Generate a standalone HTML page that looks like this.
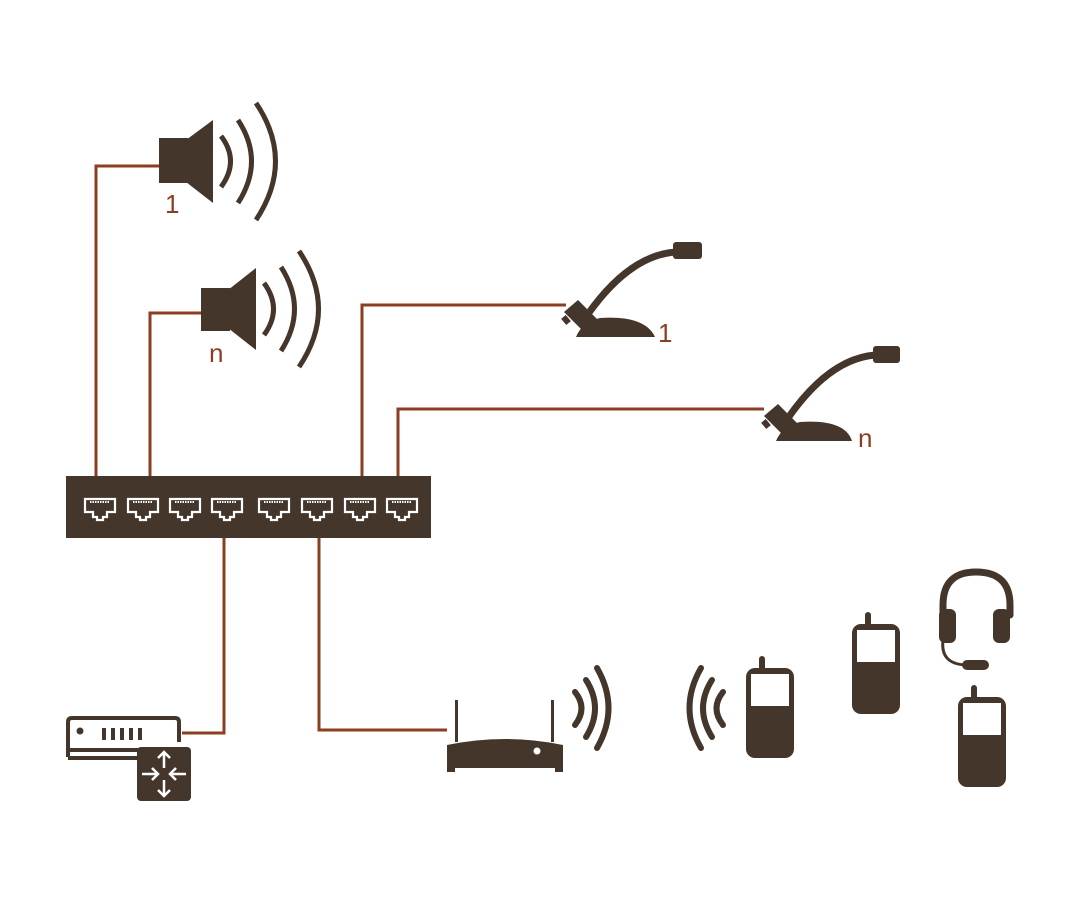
<!DOCTYPE html>
<html><head><meta charset="utf-8"><style>html,body{margin:0;padding:0;background:#fff}svg{display:block}</style></head>
<body>
<svg width="1080" height="905" viewBox="0 0 1080 905" xmlns="http://www.w3.org/2000/svg">
<defs>
<g id="port"><path d="M-15,-9 H15 V4 H7 V9 H3 V12 H-3 V9 H-7 V4 H-15 Z" fill="none" stroke="#fff" stroke-width="2.2"/><line x1="-10" y1="-6" x2="10" y2="-6" stroke="#fff" stroke-width="2" stroke-dasharray="1.5 1"/></g>
<g id="phone"><rect x="0" y="11" width="48" height="90" rx="9" fill="#45362b"/><rect x="13" y="-1" width="6" height="16" rx="3" fill="#45362b"/><rect x="5" y="17" width="38" height="32" fill="#fff"/></g>
</defs>
<g fill="none" stroke="#8b3e22" stroke-width="3">
<polyline points="96,476 96,166 160,166"/>
<polyline points="150,476 150,313 202,313"/>
<polyline points="362,476 362,305 566,305"/>
<polyline points="398,476 398,409 764,409"/>
<polyline points="224,538 224,733 182,733"/>
<polyline points="319,538 319,730 447,730"/>
</g>
<rect x="66" y="476" width="365" height="62" fill="#45362b"/>
<use href="#port" x="100" y="508"/><use href="#port" x="143" y="508"/><use href="#port" x="185" y="508"/><use href="#port" x="227" y="508"/>
<use href="#port" x="274" y="508"/><use href="#port" x="317" y="508"/><use href="#port" x="360" y="508"/><use href="#port" x="402" y="508"/>
<g fill="#45362b"><rect x="159" y="138" width="29" height="45"/><polygon points="186,140 213,120 213,203 186,182"/>
<rect x="201" y="288" width="29" height="43"/><polygon points="228,290 256,268 256,350 228,328"/></g>
<g fill="none" stroke="#45362b" stroke-width="5" stroke-linecap="butt">
<path d="M221,136 Q240,161 221,187"/><path d="M238,120 Q265,161 238,203"/><path d="M256,103 Q295,161 256,220"/>
<path d="M264,283 Q283,309 264,335"/><path d="M281,267 Q308,309 281,351"/><path d="M299,251 Q338,309 299,367"/>
</g>
<g font-family="Liberation Sans, sans-serif" font-size="26" fill="#8b3e22">
<text x="165" y="213">1</text><text x="209" y="362">n</text><text x="658" y="342">1</text><text x="858" y="447">n</text></g>
<g fill="#45362b">
<path d="M576,337 Q582,322 600,318 Q645,315 655,337 Z"/><polygon points="564,312 578,300 602,324 588,336"/><rect x="563" y="316" width="6" height="8" transform="rotate(-40 566 320)"/>
<path d="M588,314 Q630,255 676,252" stroke="#45362b" stroke-width="7" fill="none"/><rect x="673" y="242" width="29" height="17" rx="3"/>
<path d="M776,441 Q782,426 800,422 Q845,419 852,441 Z"/><polygon points="764,416 778,404 802,428 788,440"/><rect x="763" y="420" width="6" height="8" transform="rotate(-40 766 424)"/>
<path d="M788,418 Q830,358 876,355" stroke="#45362b" stroke-width="7" fill="none"/><rect x="873" y="346" width="27" height="17" rx="3"/>
</g>
<g fill="none" stroke="#45362b" stroke-width="4"><path d="M68,757 V722 Q68,718 72,718 H175 Q179,718 179,722 V742"/><line x1="68" y1="750" x2="140" y2="750"/><line x1="68" y1="758" x2="140" y2="758"/></g>
<g fill="#45362b"><circle cx="80" cy="731" r="3.5"/><rect x="102" y="728" width="4" height="12"/><rect x="111" y="728" width="4" height="12"/><rect x="120" y="728" width="4" height="12"/><rect x="129" y="728" width="4" height="12"/><rect x="138" y="728" width="4" height="12"/>
<rect x="137" y="747" width="54" height="54" rx="4"/></g>
<g stroke="#fff" stroke-width="2.5" fill="none"><path d="M164,752 V768 M158,758 L164,752 L170,758 M164,796 V780 M158,790 L164,796 L170,790 M142,774 H158 M152,768 L158,774 L152,780 M186,774 H170 M176,768 L170,774 L176,780"/></g>
<g fill="#45362b"><path d="M447,745 Q505,733 563,745 V768 H447 Z"/><rect x="447" y="765" width="8" height="7"/><rect x="555" y="765" width="8" height="7"/><rect x="455" y="700" width="3" height="42"/><rect x="551" y="700" width="3" height="42"/></g>
<circle cx="537" cy="751" r="3.5" fill="#fff"/>
<g fill="none" stroke="#45362b" stroke-width="6" stroke-linecap="round">
<path d="M575,692 Q588,708 575,725"/><path d="M586,680 Q604,708 586,737"/><path d="M597,668 Q620,708 597,748"/>
<path d="M723,692 Q710,708 723,725"/><path d="M712,680 Q694,708 712,737"/><path d="M701,668 Q678,708 701,748"/>
<path d="M943,615 V605 Q943,572 976,572 Q1010,572 1010,605 V615" stroke-width="7"/>
<path d="M943,640 Q940,665 968,665" stroke-width="3"/>
</g>
<g fill="#45362b"><rect x="939" y="609" width="17" height="34" rx="6"/><rect x="993" y="609" width="17" height="34" rx="6"/><rect x="962" y="660" width="27" height="10" rx="5"/></g>
<use href="#phone" x="746" y="657"/><use href="#phone" x="852" y="613"/><use href="#phone" x="958" y="686"/>
</svg>
</body></html>
